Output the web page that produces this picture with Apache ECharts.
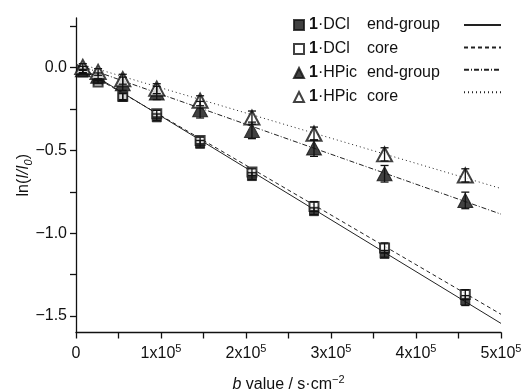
<!DOCTYPE html>
<html>
<head>
<meta charset="utf-8">
<script src="https://cdn.jsdelivr.net/npm/echarts@6/dist/echarts.min.js"></script>
<style>
  html, body { margin: 0; padding: 0; background: #fff; }
  #chart { width: 529px; height: 391px; }
</style>
</head>
<body>
<div id="chart"></div>
<script>
// b values (s·cm^-2) of the measured points
const bValues = [8000, 26000, 55000, 95000, 146000, 207000, 280000, 363000, 458000];

// ln(I/I0)
const dclEnd = [-0.02, -0.077, -0.177, -0.30, -0.46, -0.655, -0.867, -1.125, -1.407];
const dclCore = [-0.026, -0.087, -0.173, -0.278, -0.44, -0.631, -0.839, -1.089, -1.371];
const hpicEnd = [-0.012, -0.052, -0.097, -0.153, -0.254, -0.379, -0.486, -0.641, -0.802];
const hpicCore = [0.004, -0.026, -0.07, -0.127, -0.2, -0.302, -0.399, -0.524, -0.651];

// error bar half-heights
const dclEndErr = [0.01, 0.01, 0.02, 0.02, 0.02, 0.02, 0.02, 0.02, 0.03];
const dclCoreErr = [0.01, 0.01, 0.02, 0.02, 0.02, 0.02, 0.03, 0.03, 0.03];
const hpicEndErr = [0.02, 0.02, 0.04, 0.04, 0.05, 0.05, 0.05, 0.05, 0.05];
const hpicCoreErr = [0.02, 0.02, 0.03, 0.03, 0.03, 0.04, 0.04, 0.04, 0.04];

// fitted lines, end points
const fitB = [0, 500000];
const dclEndFit = [0.02, -1.545];
const dclCoreFit = [0.01, -1.49];
const hpicEndFit = [0.02, -0.885];
const hpicCoreFit = [0.03, -0.73];

// axis ticks / labels
const xTicks = [0, 50000, 100000, 150000, 200000, 250000, 300000, 350000, 400000, 450000, 500000];
const xLabels = [0, 100000, 200000, 300000, 400000, 500000];
const yTicks = [-1.5, -1.25, -1, -0.75, -0.5, -0.25, 0, 0.25];
const yLabels = [-1.5, -1, -0.5, 0];

const legendText = {
  dclEnd: '{b|1}{k|·DCl}{d|end-group}',
  dclCore: '{b|1}{k|·DCl}{d|core}',
  hpicEnd: '{b|1}{k|·HPic}{d|end-group}',
  hpicCore: '{b|1}{k|·HPic}{d|core}'
};

const FONT = '"Liberation Sans", Arial, Helvetica, sans-serif';
const INK = '#111';

const pts = (ys) => bValues.map((b, i) => [b, ys[i]]);
const fit = (ys) => fitB.map((b, i) => [b, ys[i]]);

function errBars(ys, errs) {
  return {
    type: 'custom',
    silent: true,
    z: 5,
    encode: {x: 0, y: 1},
    data: bValues.map((b, i) => [b, ys[i], errs[i]]),
    renderItem(params, api) {
      const x = api.value(0), y = api.value(1), e = api.value(2);
      const top = api.coord([x, y + e]);
      const bot = api.coord([x, y - e]);
      const w = 4;
      const style = {stroke: INK, lineWidth: 1.3};
      return {
        type: 'group',
        children: [
          {type: 'line', shape: {x1: top[0], y1: top[1], x2: bot[0], y2: bot[1]}, style},
          {type: 'line', shape: {x1: top[0] - w, y1: top[1], x2: top[0] + w, y2: top[1]}, style},
          {type: 'line', shape: {x1: bot[0] - w, y1: bot[1], x2: bot[0] + w, y2: bot[1]}, style}
        ]
      };
    }
  };
}

function fitLine(name, ys, type) {
  return {
    name, type: 'line', data: fit(ys), symbol: 'none', silent: true, z: 2,
    lineStyle: {color: '#222', width: 1, type},
    itemStyle: {color: '#222'}
  };
}

function scatter(name, ys, symbol, size) {
  return {
    name, type: 'scatter', data: pts(ys), symbol, symbolSize: size, z: 3,
    itemStyle: {color: INK, borderColor: INK, borderWidth: 1}
  };
}

const chart = echarts.init(document.getElementById('chart'));
chart.setOption({
  animation: false,
  backgroundColor: '#fff',
  textStyle: {fontFamily: FONT},
  grid: {left: 76, right: 28, top: 18, bottom: 58.5, outerBoundsMode: 'none', containLabel: false},
  legend: [{
    data: ['dclEnd', 'dclCore', 'hpicEnd', 'hpicCore'],
    orient: 'vertical', left: 288, top: 12,
    itemWidth: 10, itemHeight: 10, itemGap: 8,
    selectedMode: false,
    formatter: (n) => legendText[n],
    textStyle: {
      fontFamily: FONT, fontSize: 16, color: INK,
      rich: {
        b: {fontFamily: FONT, fontSize: 16, fontWeight: 'bold', color: INK, lineHeight: 16},
        k: {fontFamily: FONT, fontSize: 16, color: INK, width: 49, lineHeight: 16},
        d: {fontFamily: FONT, fontSize: 16, color: INK, lineHeight: 16}
      }
    }
  }, {
    data: ['dclEnd fit', 'dclCore fit', 'hpicEnd fit', 'hpicCore fit'],
    orient: 'vertical', left: 458, top: 12,
    itemWidth: 37, itemHeight: 16, itemGap: 8,
    selectedMode: false,
    formatter: () => '',
    itemStyle: {color: 'rgba(0,0,0,0)', borderColor: 'rgba(0,0,0,0)', borderWidth: 0, opacity: 0},
    textStyle: {fontSize: 16}
  }],
  xAxis: {
    type: 'value', min: 0, max: 500000,
    name: '{i|b} value / s·cm{sup|−2}',
    nameLocation: 'middle', nameGap: 42, nameMoveOverlap: false,
    nameTextStyle: {
      fontFamily: FONT, fontSize: 16, color: INK, lineHeight: 20,
      rich: {
        i: {fontFamily: FONT, fontSize: 16, fontStyle: 'italic', color: INK, lineHeight: 20},
        sup: {fontFamily: FONT, fontSize: 11, color: INK, lineHeight: 11, verticalAlign: 'top'}
      }
    },
    axisLine: {show: true, onZero: false, lineStyle: {color: INK, width: 1.3}},
    axisTick: {show: true, length: 6, customValues: xTicks, lineStyle: {color: INK, width: 1.3}},
    axisLabel: {
      customValues: xLabels, margin: 11, color: INK, fontSize: 16, fontFamily: FONT, lineHeight: 20,
      formatter: (v) => v === 0 ? '0' : (v / 100000) + 'x10{sup|5}',
      rich: {
        sup: {fontFamily: FONT, fontSize: 11, color: INK, lineHeight: 11, verticalAlign: 'top'}
      }
    },
    splitLine: {show: false}
  },
  yAxis: {
    type: 'value', min: -1.6, max: 0.3,
    name: 'ln({i|I/I}{sub|0})',
    nameLocation: 'middle', nameGap: 42, nameMoveOverlap: false,
    nameTextStyle: {
      fontFamily: FONT, fontSize: 16, color: INK, lineHeight: 20,
      rich: {
        i: {fontFamily: FONT, fontSize: 16, fontStyle: 'italic', color: INK, lineHeight: 20},
        sub: {fontFamily: FONT, fontSize: 11, fontStyle: 'italic', color: INK, lineHeight: 11, verticalAlign: 'bottom'}
      }
    },
    axisLine: {show: true, onZero: false, lineStyle: {color: INK, width: 1.3}},
    axisTick: {show: true, length: 6, customValues: yTicks, lineStyle: {color: INK, width: 1.3}},
    axisLabel: {
      customValues: yLabels, margin: 9, color: INK, fontSize: 16, fontFamily: FONT,
      formatter: (v) => v.toFixed(1).replace('-', '−')
    },
    splitLine: {show: false}
  },
  series: [
    fitLine('dclEnd fit', dclEndFit, 'solid'),
    fitLine('dclCore fit', dclCoreFit, [4, 3]),
    fitLine('hpicEnd fit', hpicEndFit, [5, 2, 1, 2]),
    fitLine('hpicCore fit', hpicCoreFit, [1, 3]),
    scatter('dclEnd', dclEnd, 'rect', 9),
    scatter('dclCore', dclCore, 'emptyRect', 9),
    scatter('hpicEnd', hpicEnd, 'triangle', [15, 14]),
    scatter('hpicCore', hpicCore, 'emptyTriangle', [15, 14]),
    errBars(dclEnd, dclEndErr),
    errBars(dclCore, dclCoreErr),
    errBars(hpicEnd, hpicEndErr),
    errBars(hpicCore, hpicCoreErr)
  ]
});
</script>
</body>
</html>
